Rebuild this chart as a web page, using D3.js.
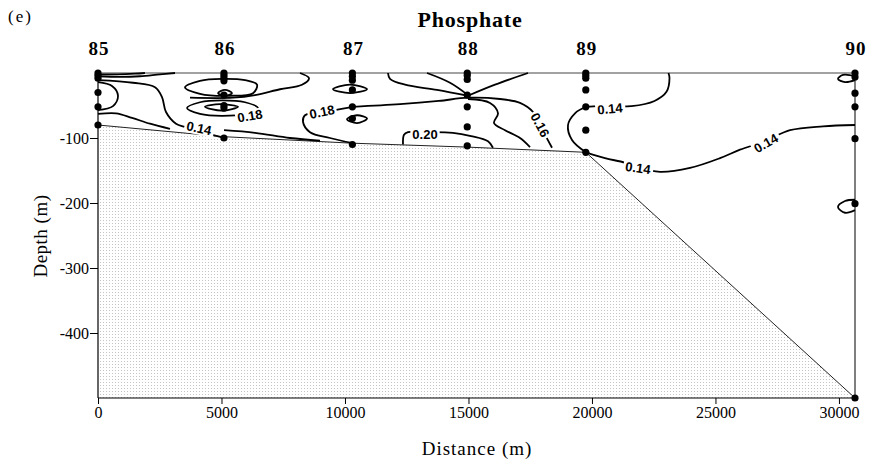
<!DOCTYPE html>
<html>
<head>
<meta charset="utf-8">
<script src="https://cdn.jsdelivr.net/npm/d3@7"></script>
<style>
  body { margin: 0; background: #fff; }
  .serif { font-family: "Liberation Serif", "Times New Roman", serif; fill: #000; }
  .axis text { font-family: "Liberation Serif", "Times New Roman", serif; font-size: 16px; fill: #000; }
  .axis line { stroke: #000; }
  .clabel { font-family: "Liberation Sans", Arial, sans-serif; font-size: 13px; font-weight: bold; }
</style>
</head>
<body>
<svg id="chart" width="872" height="464"></svg>
<script>
// stations along the transect
const stationIds = ['85', '86', '87', '88', '89', '90'];
const stationDist = [0, 5100, 10300, 14950, 19750, 30650];
// sample depths at each station (m)
const sampleDepths = [
  [0, -4, -8, -30, -52, -80],
  [0, -4, -8, -12, -34, -50, -54, -100],
  [0, -5, -11, -26, -52, -70, -110],
  [0, -4, -10, -34, -52, -83, -112],
  [0, -4, -8, -26, -52, -88, -122],
  [0, -6, -31, -52, -101, -201, -500]
];
// bottom profile [distance, depth]
const seafloor = [[0, -80], [5100, -98], [10300, -108], [14950, -114], [19750, -122], [30650, -500]];

const distanceTicks = [0, 5000, 10000, 15000, 20000, 25000, 30000];
const depthTicks = [-100, -200, -300, -400];

const iso85top = [[0, -5], [891, -6], [1700, -5], [2510, -2], [3118, 0]];
const iso85top2 = [[0, -2], [800, -2], [1500, -1], [1900, 0]];
const iso85bulge = [[0, -14], [567, -20], [810, -35], [607, -51], [0, -57]];
const iso85low = [[0, -63], [729, -62], [1377, -69], [2105, -78], [2915, -86]];
const iso014a = [[0, -11], [1417, -15], [2308, -22], [2591, -37], [2753, -60], [3159, -78], [3523, -83], [4332, -92], [5102, -100]];
const iso86up = [[8179, 0], [8543, -8], [8260, -18], [7369, -25], [6357, -34], [5466, -38], [3725, -38]];
const iso86low = [[5102, -88], [6357, -92], [7774, -100], [8989, -104]];
const iso018 = [[10325, -52], [9596, -57], [8381, -65], [8300, -75], [8584, -91], [9394, -100], [10325, -108]];
const iso016a = [[10325, -52], [12228, -48], [13800, -43], [14981, -38], [16277, -40], [17087, -46], [17613, -60], [18099, -95], [18382, -115]];
const iso016b = [[14981, -40], [15872, -46], [16196, -62], [16034, -77], [16480, -88], [17087, -100], [17492, -114]];
const iso88a = [[11742, 0], [11823, -9], [12430, -18], [13726, -26], [14981, -35]];
const iso88b = [[14981, -35], [16074, -18], [17411, 0]];
const iso88c = [[13321, 0], [14253, -15], [14981, -34]];
const iso020 = [[12349, -110], [12390, -95], [12552, -91], [13321, -91], [14374, -92], [15103, -97], [15791, -105], [15993, -115]];
const iso89loop = [[19759, -52], [19313, -62], [19030, -80], [19192, -103], [19759, -122]];
const iso014b = [[19759, -52], [20305, -51], [21600, -51], [22532, -43], [23017, -29], [23139, -8], [23098, 0]];
const iso014c = [[19759, -122], [20528, -131], [21338, -138], [21900, -146], [22756, -152], [23970, -146], [25184, -131], [25994, -118], [27000, -105], [28019, -88], [29355, -82], [30650, -80]];
const iso90top = [[30650, -5], [30164, -3], [29961, -9], [30246, -14], [30650, -11]];
const iso90deep = [[30650, -195], [30246, -197], [29961, -206], [30246, -215], [30650, -211]];
// closed isolines
const loop86a = [[3523, -22], [4130, -12], [5021, -9], [5952, -11], [6438, -18], [6276, -31], [5345, -35], [4130, -32]];
const loop86b = [[4859, -31], [5142, -26], [5426, -31], [5142, -35]];
const loop86c = [[3604, -54], [4130, -45], [5021, -42], [5952, -45], [6478, -54], [5952, -63], [5021, -66], [4130, -63]];
const loop86d = [[4332, -52], [4940, -48], [5669, -52], [5021, -58]];
const loop87a = [[9515, -25], [10203, -18], [10892, -25], [10203, -31]];
const loop87b = [[10082, -71], [10487, -65], [10892, -70], [10487, -77]];

// label text, distance, depth, angle
const isoLabels = [
  ['0.14', 4089, -85, 12],
  ['0.18', 6154, -66, -10],
  ['0.18', 9070, -60, -12],
  ['0.20', 13240, -94, 0],
  ['0.16', 17897, -80, 62],
  ['0.14', 20730, -55, -5],
  ['0.14', 21864, -146, 8],
  ['0.14', 27047, -108, -30]
];

const openLines = [iso85top, iso85top2, iso85bulge, iso85low, iso014a, iso86up, iso86low, iso018,
  iso016a, iso016b, iso88a, iso88b, iso88c, iso020, iso89loop, iso014b, iso014c, iso90top, iso90deep];
const closedLines = [loop86a, loop86b, loop86c, loop86d, loop87a, loop87b];

const svg = d3.select('#chart');
const x = d3.scaleLinear().domain([0, 30650]).range([98, 855]);
const y = d3.scaleLinear().domain([-500, 0]).range([398, 73]);

// stipple for the bottom
const pat = svg.append('defs').append('pattern')
  .attr('id', 'stipple').attr('patternUnits', 'userSpaceOnUse')
  .attr('width', 3).attr('height', 3);
pat.append('rect').attr('width', 3).attr('height', 3).attr('fill', '#fff');
pat.append('rect').attr('x', 1).attr('y', 1).attr('width', 1).attr('height', 1).attr('fill', '#c4c4c4');

const area = seafloor.concat([[0, -500]]);
svg.append('path')
  .attr('d', d3.line().x(d => x(d[0])).y(d => y(d[1]))(area) + 'Z')
  .attr('fill', 'url(#stipple)');
svg.append('path')
  .attr('d', d3.line().x(d => x(d[0])).y(d => y(d[1]))(seafloor))
  .attr('fill', 'none').attr('stroke', '#222').attr('stroke-width', 1);

// frame
const frame = svg.append('g').attr('stroke', '#000').attr('stroke-width', 1.2);
frame.append('line').attr('x1', x(0)).attr('x2', x(30650)).attr('y1', y(0)).attr('y2', y(0)).attr('stroke', '#444').attr('stroke-width', 1);
frame.append('line').attr('x1', x(0)).attr('x2', x(0)).attr('y1', y(0)).attr('y2', y(-500));
frame.append('line').attr('x1', x(0)).attr('x2', x(30650)).attr('y1', y(-500)).attr('y2', y(-500));
frame.append('line').attr('x1', x(30650)).attr('x2', x(30650)).attr('y1', y(0)).attr('y2', y(-500)).attr('stroke-width', 1);

// isolines
const iso = d3.line().x(d => x(d[0])).y(d => y(d[1])).curve(d3.curveCatmullRom.alpha(0.5));
const isoClosed = d3.line().x(d => x(d[0])).y(d => y(d[1])).curve(d3.curveCatmullRomClosed.alpha(0.5));
const g = svg.append('g').attr('fill', 'none').attr('stroke', '#000').attr('stroke-width', 1.8);
openLines.forEach(p => g.append('path').attr('d', iso(p)));
closedLines.forEach(p => g.append('path').attr('d', isoClosed(p)));

// sample points
stationDist.forEach((sx, i) => {
  svg.append('g').selectAll('circle')
    .data(sampleDepths[i]).enter().append('circle')
    .attr('cx', x(sx)).attr('cy', d => y(d)).attr('r', 3.6).attr('fill', '#000');
});

// isoline labels, white box breaks the line
const lab = svg.append('g').selectAll('g').data(isoLabels).enter().append('g')
  .attr('transform', d => `translate(${x(d[1])},${y(d[2])}) rotate(${d[3]})`);
lab.append('text')
  .attr('class', 'clabel')
  .attr('text-anchor', 'middle').attr('dy', '0.35em')
  .text(d => d[0]);
lab.each(function() {
  const t = d3.select(this).select('text');
  const bb = t.node().getBBox();
  d3.select(this).insert('rect', 'text')
    .attr('x', bb.x - 2).attr('y', bb.y + 1).attr('width', bb.width + 4).attr('height', bb.height - 2)
    .attr('fill', '#fff');
});

// axes
const xAxis = svg.append('g').attr('class', 'axis')
  .attr('transform', `translate(0,${y(-500)})`)
  .call(d3.axisBottom(x).tickValues(distanceTicks).tickSize(6).tickSizeOuter(0).tickPadding(3).tickFormat(d => String(d)));
xAxis.select('.domain').remove();
const yAxis = svg.append('g').attr('class', 'axis')
  .attr('transform', `translate(${x(0)},0)`)
  .call(d3.axisLeft(y).tickValues(depthTicks).tickSize(8).tickSizeOuter(0).tickPadding(1).tickFormat(d => String(d)));
yAxis.select('.domain').remove();

// station numbers
svg.append('g').selectAll('text').data(stationIds).enter().append('text')
  .attr('class', 'serif')
  .attr('x', (d, i) => x(stationDist[i]) + 1).attr('y', 55)
  .attr('text-anchor', 'middle')
  .style('font-size', '19px').style('font-weight', 'bold').style('letter-spacing', '1px')
  .text(d => d);

svg.append('text').attr('class', 'serif').attr('x', 470).attr('y', 27).attr('text-anchor', 'middle')
  .style('font-size', '22px').style('font-weight', 'bold').style('letter-spacing', '0.8px')
  .text('Phosphate');
svg.append('text').attr('class', 'serif').attr('x', 8).attr('y', 22)
  .style('font-size', '17px').style('letter-spacing', '2px').text('(e)');
svg.append('text').attr('class', 'serif').attr('transform', 'translate(47,236) rotate(-90)').attr('text-anchor', 'middle')
  .style('font-size', '19px').style('letter-spacing', '0.5px').text('Depth (m)');
svg.append('text').attr('class', 'serif').attr('x', 477).attr('y', 455).attr('text-anchor', 'middle')
  .style('font-size', '19px').style('letter-spacing', '1px').text('Distance (m)');
</script>
</body>
</html>
